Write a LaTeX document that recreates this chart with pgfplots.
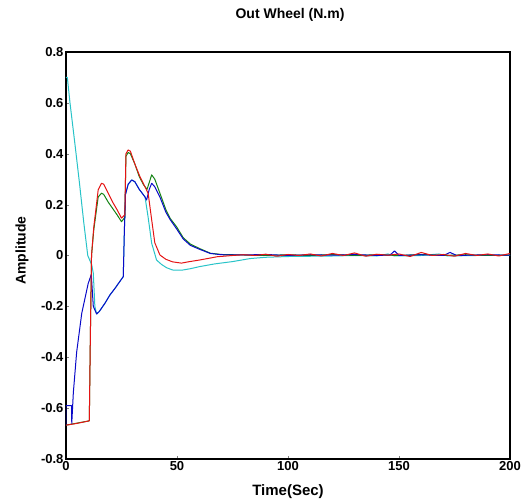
\documentclass[border=0pt]{standalone}
\usepackage{fontspec}
\setmainfont{Liberation Sans}
\usepackage{pgfplots}
\pgfplotsset{compat=1.18}
\definecolor{mred}{RGB}{228,20,20}
\definecolor{mgreen}{RGB}{20,130,20}
\definecolor{mblue}{RGB}{10,10,200}
\definecolor{mcyan}{RGB}{40,195,200}
\begin{document}
\begin{tikzpicture}
\useasboundingbox (-66pt,-44pt) rectangle (459pt,459pt);
\begin{axis}[
  scale only axis,
  width=444pt, height=407pt,
  xmin=0, xmax=200, ymin=-0.8, ymax=0.8,
  xtick={0,50,100,150,200},
  ytick={-0.8,-0.6,-0.4,-0.2,0,0.2,0.4,0.6,0.8},
  yticklabels={-0.8,-0.6,-0.4,-0.2,0,0.2,0.4,0.6,0.8},
  tick align=inside,
  xtick pos=left, ytick pos=left,
  major tick length=3pt,
  axis line style={line width=1.3pt, black},
  /pgf/number format/assume math mode=true,
  tick label style={font=\fontsize{13}{15}\selectfont\bfseries},
  yticklabel style={xshift=1pt},
  xticklabel style={yshift=1pt},
  title={Out Wheel (N.m)},
  title style={font=\fontsize{14}{16}\selectfont\bfseries, at={(0.5,1)}, anchor=center, yshift=31pt, xshift=2pt},
  xlabel={Time(Sec)},
  xlabel style={font=\fontsize{15}{17}\selectfont\bfseries, at={(0.5,0)}, anchor=center, yshift=-33pt},
  ylabel={Amplitude},
  ylabel style={font=\fontsize{14}{16}\selectfont\bfseries, at={(0,0.5)}, anchor=center, yshift=44pt, xshift=5pt},
  every axis plot/.append style={line width=1.0pt, line join=round},
]
% cyan
\addplot[mcyan] coordinates {
(0,0.70)(0.6,0.70)(1.8,0.60)(4,0.44)(6,0.29)(8,0.13)(9.8,0.0)(11.6,-0.037)(12.3,-0.07)(13,-0.2)(13.8,-0.23)(15,-0.22)(17.6,-0.187)(19.8,-0.155)(22,-0.13)(25.8,-0.083)(26.3,0.1)(26.8,0.24)(28,0.28)(29.6,0.297)(31,0.29)(33,0.26)(35.6,0.23)(37,0.15)(38.6,0.048)(40.8,-0.018)(43,-0.035)(45.3,-0.048)(48,-0.057)(52,-0.058)(56,-0.052)(60,-0.044)(67,-0.033)(75,-0.024)(83,-0.012)(90,-0.007)(100,-0.004)(110,-0.003)(120,-0.002)(130,0.0)(140,-0.002)(145,0.006)(148,-0.002)(160,0.0)(168,0.006)(172,-0.002)(185,0.0)(200,0.0)
};
% green
\addplot[mgreen] coordinates {
(0,-0.667)(10.5,-0.65)(11,-0.3)(11.5,0.0)(12.5,0.10)(14.5,0.23)(16,0.245)(17,0.24)(19,0.21)(21,0.185)(23,0.16)(25,0.133)(26.5,0.15)(27,0.39)(28,0.405)(29,0.40)(31,0.36)(33,0.31)(35,0.277)(36.5,0.26)(38.6,0.317)(40,0.30)(42.3,0.245)(45,0.18)(47,0.145)(49.8,0.113)(52.8,0.07)(56,0.045)(60,0.028)(65,0.009)(70,0.004)(80,0.002)(90,0.0)(100,0.003)(110,0.0)(120,0.004)(130,0.0)(140,0.003)(150,0.0)(160,0.004)(170,0.0)(180,0.003)(190,0.0)(200,0.002)
};
% blue
\addplot[mblue] coordinates {
(0,-0.67)(0,-0.59)(2.5,-0.59)(2.6,-0.66)(3.3,-0.54)(4.8,-0.38)(7.1,-0.227)(10,-0.11)(11.4,-0.075)(12.3,-0.2)(13.8,-0.23)(15,-0.22)(17.6,-0.187)(19.8,-0.155)(22,-0.13)(25.8,-0.083)(26.3,0.1)(26.8,0.24)(28,0.28)(29.6,0.297)(31,0.29)(33,0.26)(35.6,0.23)(36.3,0.218)(37.5,0.26)(38.6,0.284)(40,0.27)(42.3,0.23)(45,0.17)(47,0.14)(49.8,0.105)(52.8,0.065)(56,0.04)(60,0.025)(65,0.008)(70,0.003)(80,0.002)(90,0.004)(100,0.0)(110,0.003)(120,0.001)(130,0.004)(140,0.0)(146,0.002)(148,0.018)(150,0.0)(160,0.003)(170,0.0)(173,0.012)(176,0.0)(190,0.003)(200,0.001)
};
% red
\addplot[mred] coordinates {
(0,-0.667)(5,-0.66)(10.5,-0.65)(11,-0.3)(11.5,0.0)(12.5,0.11)(14.5,0.258)(16,0.284)(17,0.28)(19,0.245)(21,0.21)(23,0.18)(25,0.147)(26.5,0.16)(27,0.40)(28,0.415)(29,0.41)(31,0.36)(33.3,0.31)(35,0.28)(37,0.245)(38.6,0.14)(40,0.05)(42.3,0.002)(45,-0.015)(48,-0.025)(52,-0.03)(55,-0.025)(60,-0.018)(65,-0.01)(68,-0.005)(75,0.0)(80,0.003)(85,0.0)(90,0.005)(95,-0.003)(100,0.004)(105,0.0)(110,0.006)(115,-0.002)(120,0.008)(125,0.0)(130,0.01)(135,-0.003)(140,0.005)(145,0.001)(150,0.006)(155,-0.004)(160,0.012)(165,0.0)(170,0.004)(175,-0.003)(180,0.008)(185,0.0)(190,0.006)(195,-0.002)(200,0.008)
};
\end{axis}
\end{tikzpicture}
\end{document}
